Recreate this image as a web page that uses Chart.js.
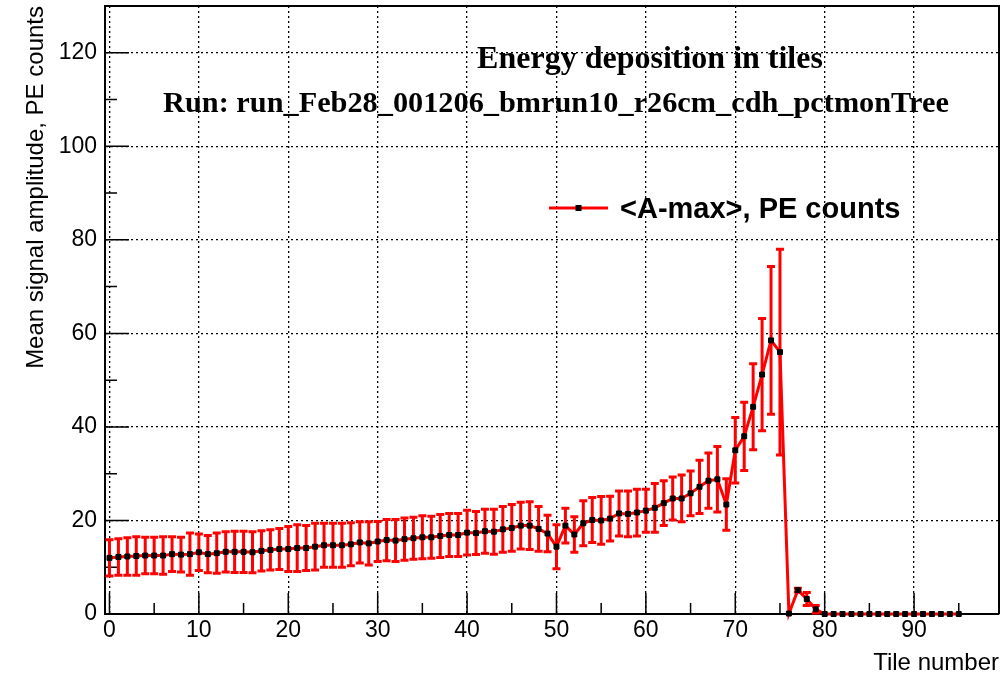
<!DOCTYPE html>
<html lang="en">
<head>
    <meta charset="UTF-8">
    <title>Energy deposition in tiles</title>
    <script src="https://cdn.jsdelivr.net/npm/chart.js"></script>
    <style>
        body { margin: 0; background: #ffffff; }
        #wrap { width: 1008px; height: 685px; }
    </style>
</head>
<body>
    <div id="wrap"><canvas id="grafico"></canvas></div>

    <script>
        // Tile numbers (x)
        const tiles = [
            0, 1, 2, 3, 4, 5, 6, 7, 8, 9, 10, 11, 12, 13, 14, 15, 16, 17, 18, 19,
            20, 21, 22, 23, 24, 25, 26, 27, 28, 29, 30, 31, 32, 33, 34, 35, 36, 37, 38, 39,
            40, 41, 42, 43, 44, 45, 46, 47, 48, 49, 50, 51, 52, 53, 54, 55, 56, 57, 58, 59,
            60, 61, 62, 63, 64, 65, 66, 67, 68, 69, 70, 71, 72, 73, 74, 75, 76, 77, 78, 79,
            80, 81, 82, 83, 84, 85, 86, 87, 88, 89, 90, 91, 92, 93, 94, 95
        ];

        // <A-max>, PE counts (mean per tile)
        const amplitude = [
            12.0, 12.2, 12.3, 12.4, 12.5, 12.5, 12.5, 12.8, 12.7, 12.8,
            13.2, 12.8, 13.0, 13.3, 13.3, 13.3, 13.2, 13.5, 13.7, 13.9,
            13.9, 14.1, 14.1, 14.4, 14.7, 14.7, 14.7, 14.9, 15.3, 15.1,
            15.5, 15.8, 15.7, 16.0, 16.2, 16.4, 16.4, 16.7, 16.9, 16.9,
            17.4, 17.3, 17.7, 17.6, 18.1, 18.4, 18.9, 18.9, 18.2, 17.2,
            14.4, 18.9, 17.0, 19.4, 20.1, 20.0, 20.4, 21.5, 21.4, 21.7,
            22.1, 22.7, 23.7, 24.7, 24.7, 25.8, 27.2, 28.5, 28.8, 23.4,
            35.0, 38.0, 44.3, 51.2, 58.5, 56.0, 0.1, 5.1, 3.2, 1.0,
            0, 0, 0, 0, 0, 0, 0, 0, 0, 0, 0, 0, 0, 0, 0, 0
        ];

        // errors (+/-)
        const amplitudeErr = [
            3.9, 3.9, 4.0, 4.1, 3.9, 3.9, 4.0, 3.7, 3.7, 4.5,
            3.9, 4.0, 4.3, 4.3, 4.4, 4.4, 4.4, 4.3, 4.3, 4.4,
            4.8, 5.0, 4.8, 5.0, 4.7, 4.7, 4.7, 4.6, 4.4, 4.6,
            4.3, 4.4, 4.5, 4.5, 4.5, 4.6, 4.5, 4.6, 4.6, 4.6,
            4.8, 4.6, 4.7, 4.8, 4.9, 5.0, 5.0, 5.1, 4.8, 3.9,
            4.7, 3.7, 3.8, 4.8, 4.8, 5.1, 4.8, 4.8, 4.9, 5.0,
            4.6, 5.2, 4.8, 4.6, 5.0, 4.8, 5.7, 5.9, 7.0, 5.5,
            7.0, 7.3, 9.2, 12.0, 15.8, 22.0, 0, 0.4, 1.4, 0.8,
            0, 0, 0, 0, 0, 0, 0, 0, 0, 0, 0, 0, 0, 0, 0, 0
        ];

        const xTicks = [0, 10, 20, 30, 40, 50, 60, 70, 80, 90];
        const yTicks = [0, 20, 40, 60, 80, 100, 120];

        const titulo1 = 'Energy deposition in tiles';
        const titulo2 = 'Run: run_Feb28_001206_bmrun10_r26cm_cdh_pctmonTree';
        const legendaTexto = '<A-max>, PE counts';

        // error bars with caps, under the line
        const errorBars = {
            id: 'errorBars',
            beforeDatasetsDraw(chart) {
                const { ctx, scales: { x, y } } = chart;
                ctx.save();
                ctx.strokeStyle = '#ff0000';
                ctx.lineWidth = 3;
                tiles.forEach((t, i) => {
                    const e = amplitudeErr[i];
                    if (!e) return;
                    const px = x.getPixelForValue(t);
                    const top = y.getPixelForValue(amplitude[i] + e);
                    const bot = y.getPixelForValue(amplitude[i] - e);
                    ctx.beginPath();
                    ctx.moveTo(px, top); ctx.lineTo(px, bot);
                    ctx.moveTo(px - 4, top); ctx.lineTo(px + 4, top);
                    ctx.moveTo(px - 4, bot); ctx.lineTo(px + 4, bot);
                    ctx.stroke();
                });
                ctx.restore();
            }
        };

        // inward ticks + top/right frame (ROOT style)
        const frame = {
            id: 'frame',
            beforeDatasetsDraw(chart) {
                const { ctx, chartArea: a, scales: { x, y } } = chart;
                ctx.save();
                ctx.strokeStyle = '#000';
                ctx.lineWidth = 2;
                ctx.beginPath();
                ctx.moveTo(a.left, a.top); ctx.lineTo(a.right, a.top); ctx.lineTo(a.right, a.bottom);
                ctx.stroke();
                ctx.lineWidth = 1.5;
                ctx.beginPath();
                for (let v = 0; v <= 95; v += 5) {
                    const px = x.getPixelForValue(v);
                    const len = v % 10 === 0 ? 21 : 11;
                    ctx.moveTo(px, a.bottom); ctx.lineTo(px, a.bottom - len);
                }
                for (let v = 10; v <= 130; v += 10) {
                    const py = y.getPixelForValue(v);
                    const len = v % 20 === 0 ? 24 : 12;
                    ctx.moveTo(a.left, py); ctx.lineTo(a.left + len, py);
                }
                ctx.stroke();
                ctx.restore();
            }
        };

        // titles and legend inside the frame
        const textos = {
            id: 'textos',
            afterDraw(chart) {
                const { ctx } = chart;
                ctx.save();
                ctx.fillStyle = '#000';
                ctx.textAlign = 'center';
                ctx.textBaseline = 'alphabetic';
                ctx.font = 'bold 32px "Liberation Serif"';
                ctx.fillText(titulo1, 650, 68);
                ctx.font = 'bold 30.3px "Liberation Serif"';
                ctx.fillText(titulo2, 556, 112);

                // legend
                ctx.strokeStyle = '#ff0000';
                ctx.lineWidth = 3;
                ctx.beginPath();
                ctx.moveTo(549, 208); ctx.lineTo(608, 208);
                ctx.stroke();
                ctx.fillStyle = '#000';
                ctx.fillRect(575.5, 205, 6, 6);
                ctx.textAlign = 'left';
                ctx.font = 'bold 29px "Liberation Sans"';
                ctx.fillText(legendaTexto, 620, 218);
                ctx.restore();
            }
        };

        const gridDots = {
            color: '#000',
            lineWidth: 1.3,
            drawTicks: false
        };

        new Chart(document.getElementById('grafico'), {
            type: 'line',
            data: {
                datasets: [{
                    label: legendaTexto,
                    data: tiles.map((t, i) => ({ x: t, y: amplitude[i] })),
                    borderColor: '#ff0000',
                    borderWidth: 3,
                    tension: 0,
                    pointStyle: 'rect',
                    pointRadius: 3.5,
                    pointBorderWidth: 1,
                    pointBackgroundColor: '#000',
                    pointBorderColor: '#000',
                    clip: false
                }]
            },
            options: {
                responsive: true,
                maintainAspectRatio: false,
                animation: false,
                layout: { padding: { top: 6, right: 9, left: 0, bottom: 0 } },
                plugins: {
                    legend: { display: false },
                    tooltip: { enabled: false }
                },
                scales: {
                    x: {
                        type: 'linear',
                        min: -0.5,
                        max: 99.5,
                        afterBuildTicks: s => { s.ticks = xTicks.map(v => ({ value: v })); },
                        afterFit: s => { s.height = 71; s.paddingLeft = 0; s.paddingRight = 0; },
                        grid: gridDots,
                        border: { display: true, color: '#000', width: 2, dash: [2, 3] },
                        ticks: { color: '#000', padding: 3, maxRotation: 0, font: { family: 'Liberation Sans', size: 23 } },
                        title: {
                            display: true,
                            text: 'Tile number',
                            align: 'end',
                            color: '#000',
                            font: { family: 'Liberation Sans', size: 24, lineHeight: 1.2 },
                            padding: { top: 0, bottom: 7 }
                        }
                    },
                    y: {
                        type: 'linear',
                        min: 0,
                        max: 130,
                        afterBuildTicks: s => { s.ticks = yTicks.map(v => ({ value: v })); },
                        afterFit: s => { s.width = 105; s.paddingTop = 0; s.paddingBottom = 0; },
                        grid: gridDots,
                        border: { display: true, color: '#000', width: 2, dash: [2, 3] },
                        ticks: { color: '#000', padding: 8, font: { family: 'Liberation Sans', size: 23 } },
                        title: {
                            display: true,
                            text: 'Mean signal amplitude, PE counts',
                            align: 'end',
                            color: '#000',
                            font: { family: 'Liberation Sans', size: 24, lineHeight: 1.2 },
                            padding: { top: 22, bottom: 0 }
                        }
                    }
                }
            },
            plugins: [frame, errorBars, textos]
        });
    </script>
</body>
</html>
